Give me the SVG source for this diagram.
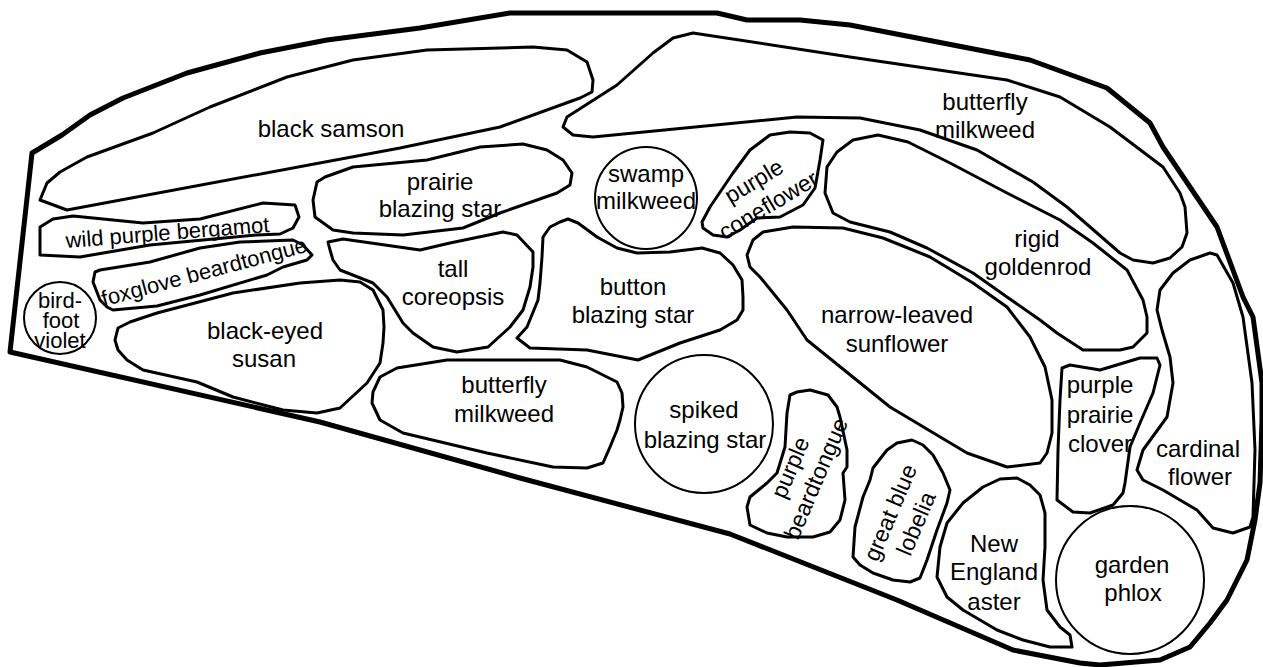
<svg xmlns="http://www.w3.org/2000/svg" width="1263" height="667" viewBox="0 0 1263 667">
<style>
.bed{fill:#fff;stroke:#000;stroke-width:3;stroke-linejoin:round}
.circ{fill:#fff;stroke:#000;stroke-width:2}
.outer{fill:#fff;stroke:#000;stroke-width:5;stroke-linejoin:round}
text{font-family:"Liberation Sans",Arial,sans-serif;font-size:24px;fill:#000;text-anchor:middle}
.s{font-size:22px}
.r{font-size:23px}
</style>
<rect width="1263" height="667" fill="#fff"/>
<g id="garden-border">
<polygon class="outer" points="10,352 32,153 62,135 90,115 123,98 187,73 260,53 327,40 420,28 510,13 717,13 747,20 800,20 850,25 1030,60 1107,88 1150,123 1163,147 1190,187 1217,227 1243,297 1253,317 1262,383 1262,420 1260,483 1255,520 1247,560 1227,600 1210,623 1190,647 1160,660 1100,665 1080,663 1013,650 897,600 730,534 520,478 320,422"/>
</g>
<g id="black-samson">
<polygon class="bed" points="40,200 47,183 60,172 87,157 153,133 210,107 287,77 353,60 427,50 533,47 567,50 587,62 593,80 592,92 580,98 500,127 400,148 67,210"/>
<text x="331" y="137">black samson</text>
</g>
<g id="butterfly-milkweed-top">
<polygon class="bed" points="563,127 567,117 617,85 653,53 673,38 693,33 850,57 1007,80 1060,97 1110,127 1163,167 1180,193 1185,207 1187,233 1182,247 1170,258 1153,263 1133,260 1120,253 1097,233 1067,207 1033,182 977,150 920,130 860,118 797,117 593,137 573,135"/>
<text x="985" y="110">butterfly</text>
<text x="985" y="138">milkweed</text>
</g>
<g id="prairie-blazing-star">
<polygon class="bed" points="317,182 325,177 353,167 427,160 480,147 523,144 547,150 563,160 572,173 570,185 557,193 500,213 463,228 403,235 353,233 333,230 315,217 313,200"/>
<text x="440" y="190">prairie</text>
<text x="440" y="217">blazing star</text>
</g>
<g id="swamp-milkweed">
<circle class="circ" cx="646" cy="198" r="51"/>
<text x="646" y="182">swamp</text>
<text x="646" y="209">milkweed</text>
</g>
<g id="purple-coneflower">
<polygon class="bed" points="702,222 710,207 733,173 750,150 770,135 790,132 810,133 823,140 820,160 817,177 815,188 803,205 780,217 757,218 740,230 727,237 713,235 703,228"/>
<g transform="translate(761,193) rotate(-31)">
<text class="r" x="0" y="-6">purple</text>
<text class="r" x="0" y="22">coneflower</text>
</g>
</g>
<g id="rigid-goldenrod">
<polygon class="bed" points="827,167 837,152 853,140 878,135 908,142 950,163 1007,193 1060,220 1093,243 1127,270 1143,300 1147,317 1147,333 1133,347 1120,350 1083,350 1057,333 1040,320 1007,297 973,273 927,248 890,232 850,222 833,213 825,193"/>
<text x="1037" y="247">rigid</text>
<text x="1038" y="275">goldenrod</text>
</g>
<g id="wild-purple-bergamot">
<polygon class="bed" points="40,227 53,219 73,216 143,223 200,219 263,203 295,205 299,217 293,228 280,234 257,235 150,245 80,257 40,255"/>
<text class="s" transform="translate(168,240) rotate(-4.5)" x="0" y="0">wild purple bergamot</text>
</g>
<g id="foxglove-beardtongue">
<polygon class="bed" points="95,272 100,270 150,262 200,248 240,242 293,240 303,245 312,255 307,260 283,267 267,275 200,295 157,306 113,310 107,307 100,300 93,282"/>
<text class="s" transform="translate(206,279) rotate(-15)" x="0" y="0">foxglove beardtongue</text>
</g>
<g id="bird-foot-violet">
<circle class="circ" cx="60" cy="318" r="36"/>
<text class="s" x="60" y="308">bird-</text>
<text class="s" x="61" y="328">foot</text>
<text class="s" x="60" y="348">violet</text>
</g>
<g id="black-eyed-susan">
<polygon class="bed" points="115,340 118,328 130,322 157,313 233,293 300,283 340,280 360,282 373,290 383,310 384,327 383,343 380,363 367,383 340,408 317,413 283,410 233,397 197,382 143,370 127,360 118,350"/>
<text x="265" y="339">black-eyed</text>
<text x="264" y="367">susan</text>
</g>
<g id="tall-coreopsis">
<polygon class="bed" points="328,242 343,239 420,250 450,243 503,232 517,235 533,252 533,267 530,287 523,310 510,327 488,347 457,352 433,347 413,333 403,323 387,297 373,283 340,270 333,260 330,250"/>
<text x="453" y="277">tall</text>
<text x="453" y="305">coreopsis</text>
</g>
<g id="button-blazing-star">
<polygon class="bed" points="543,237 550,227 560,222 568,219 578,223 597,237 617,248 637,253 670,252 702,248 720,253 733,265 742,280 743,297 743,310 737,320 720,330 680,343 638,360 587,350 530,348 517,338 527,327 538,300 540,283 542,257"/>
<text x="633" y="295">button</text>
<text x="633" y="323">blazing star</text>
</g>
<g id="butterfly-milkweed-bottom">
<polygon class="bed" points="373,392 380,377 397,368 447,360 560,360 587,367 617,382 622,393 623,407 620,420 617,430 610,447 603,463 587,468 553,467 487,453 403,433 380,420 372,403"/>
<text x="504" y="393">butterfly</text>
<text x="504" y="422">milkweed</text>
</g>
<g id="spiked-blazing-star">
<circle class="circ" cx="704" cy="424" r="69"/>
<text x="704" y="418">spiked</text>
<text x="705" y="448">blazing star</text>
</g>
<g id="narrow-leaved-sunflower">
<polygon class="bed" points="747,255 753,240 763,232 793,227 843,228 883,238 930,257 973,283 1007,307 1030,337 1045,367 1052,400 1052,433 1047,453 1040,463 1007,467 967,453 890,407 807,340 787,310 760,277 750,267"/>
<text x="897" y="323">narrow-leaved</text>
<text x="897" y="352">sunflower</text>
</g>
<g id="purple-prairie-clover">
<polygon class="bed" points="1062,368 1070,365 1100,370 1140,358 1157,358 1160,365 1153,393 1140,423 1130,447 1125,483 1123,493 1113,505 1090,513 1073,512 1057,500 1058,450 1060,400"/>
<text x="1100" y="393">purple</text>
<text x="1100" y="423">prairie</text>
<text x="1100" y="452">clover</text>
</g>
<g id="cardinal-flower">
<polygon class="bed" points="1157,310 1160,290 1173,273 1190,260 1210,253 1217,255 1233,283 1243,317 1252,383 1255,450 1253,517 1250,527 1233,533 1213,528 1197,510 1163,490 1143,480 1137,470 1143,450 1167,417 1173,383 1170,357 1162,330"/>
<text x="1198" y="457">cardinal</text>
<text x="1200" y="485">flower</text>
</g>
<g id="purple-beardtongue">
<polygon class="bed" points="790,395 797,392 810,390 828,395 837,407 840,417 847,450 847,467 843,473 845,500 840,520 830,532 813,537 787,537 767,533 750,525 747,507 750,497 767,483 777,473 785,447 787,413"/>
<g transform="translate(803,473) rotate(-67)">
<text class="r" x="0" y="-6">purple</text>
<text class="r" x="0" y="22">beardtongue</text>
</g>
</g>
<g id="great-blue-lobelia">
<polygon class="bed" points="873,468 887,450 897,443 912,440 923,445 933,455 943,473 950,490 947,503 937,530 927,560 920,578 910,582 893,580 873,573 860,565 853,557 855,527 863,497 870,480"/>
<g transform="translate(903,518) rotate(-67)">
<text class="r" x="0" y="-6">great blue</text>
<text class="r" x="0" y="22">lobelia</text>
</g>
</g>
<g id="new-england-aster">
<polygon class="bed" points="947,523 963,503 983,487 1000,479 1017,478 1030,485 1040,495 1045,513 1045,547 1043,580 1047,610 1060,627 1070,635 1072,647 1050,647 1023,640 997,630 963,610 947,597 937,577 940,547"/>
<text x="994" y="552">New</text>
<text x="994" y="580">England</text>
<text x="994" y="610">aster</text>
</g>
<g id="garden-phlox">
<circle class="circ" cx="1130" cy="580" r="74"/>
<text x="1132" y="573">garden</text>
<text x="1133" y="601">phlox</text>
</g>
</svg>
